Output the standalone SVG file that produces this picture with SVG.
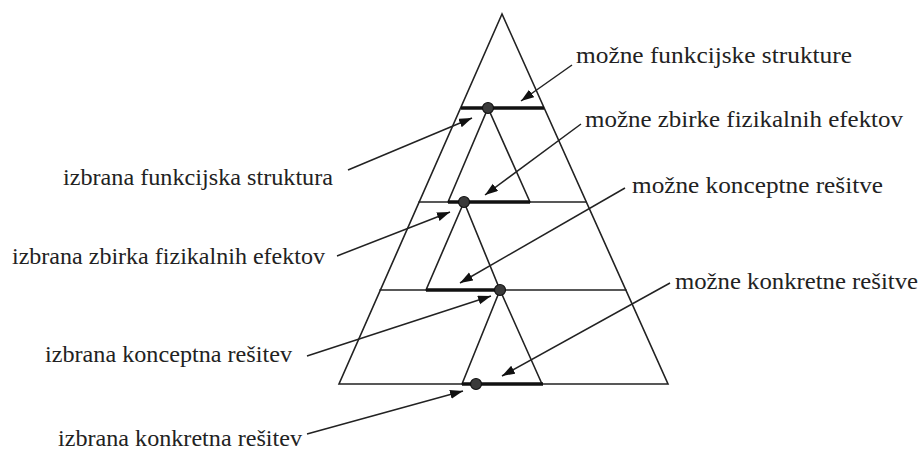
<svg xmlns="http://www.w3.org/2000/svg" width="923" height="450" viewBox="0 0 923 450">
<style>
.ln{stroke:#222;stroke-width:1.6;fill:none;stroke-linecap:round}
.thick{stroke:#111;stroke-width:3.6;fill:none}
.dot{fill:#3a3a3a;stroke:#111;stroke-width:1.2}
.arr{stroke:#222;stroke-width:1.5;fill:none;marker-end:url(#ah)}
.lbl{font-family:"Times New Roman","Liberation Serif",Tinos,serif;font-size:24px;fill:#222}
</style>
<defs>
<marker id="ah" markerUnits="userSpaceOnUse" markerWidth="14" markerHeight="10" refX="13" refY="4.5" orient="auto">
<path d="M0,0 L13,4.5 L0,9 z" fill="#111"/>
</marker>
</defs>
<rect width="923" height="450" fill="#fff"/>
<g id="pyramid">
<polygon class="ln" points="502,14 339,384 668,384"/>
<line class="ln" x1="419" y1="202" x2="586" y2="202"/>
<line class="ln" x1="380" y1="290" x2="626" y2="290"/>
</g>
<g id="sub1">
<polyline class="ln" points="448,202 488,108 530,202"/>
<line class="thick" x1="461" y1="108" x2="544" y2="108"/>
<circle class="dot" cx="488" cy="108" r="5.5"/>
</g>
<g id="sub2">
<polyline class="ln" points="426,290 464,202 500,290"/>
<line class="thick" x1="448" y1="202" x2="530" y2="202"/>
<circle class="dot" cx="464" cy="202" r="5.5"/>
</g>
<g id="sub3">
<polyline class="ln" points="462,384 500,290 542,384"/>
<line class="thick" x1="426" y1="290" x2="500" y2="290"/>
<circle class="dot" cx="500" cy="290" r="5.5"/>
</g>
<g id="sub4">
<line class="thick" x1="462" y1="384" x2="543" y2="384"/>
<circle class="dot" cx="476" cy="384" r="5.5"/>
</g>
<g id="connectors">
<line class="arr" x1="572" y1="65" x2="521" y2="101"/>
<line class="arr" x1="581" y1="124" x2="485" y2="195"/>
<line class="arr" x1="625" y1="188" x2="460" y2="283"/>
<line class="arr" x1="670" y1="283" x2="502" y2="376"/>
<line class="arr" x1="348" y1="170" x2="472" y2="118"/>
<line class="arr" x1="337" y1="256" x2="450" y2="212"/>
<line class="arr" x1="307" y1="356" x2="491" y2="296"/>
<line class="arr" x1="307" y1="434" x2="463" y2="391"/>
</g>
<g id="label-l1"><text class="lbl" x="63" y="185" textLength="270" lengthAdjust="spacingAndGlyphs">izbrana funkcijska struktura</text></g>
<g id="label-l2"><text class="lbl" x="12" y="264" textLength="313" lengthAdjust="spacingAndGlyphs">izbrana zbirka fizikalnih efektov</text></g>
<g id="label-l3"><text class="lbl" x="45" y="362" textLength="247" lengthAdjust="spacingAndGlyphs">izbrana konceptna rešitev</text></g>
<g id="label-l4"><text class="lbl" x="58" y="446" textLength="244" lengthAdjust="spacingAndGlyphs">izbrana konkretna rešitev</text></g>
<g id="label-r1"><text class="lbl" x="576" y="63" textLength="276" lengthAdjust="spacingAndGlyphs">možne funkcijske strukture</text></g>
<g id="label-r2"><text class="lbl" x="585" y="127" textLength="318" lengthAdjust="spacingAndGlyphs">možne zbirke fizikalnih efektov</text></g>
<g id="label-r3"><text class="lbl" x="632" y="193" textLength="251" lengthAdjust="spacingAndGlyphs">možne konceptne rešitve</text></g>
<g id="label-r4"><text class="lbl" x="675" y="289" textLength="243" lengthAdjust="spacingAndGlyphs">možne konkretne rešitve</text></g>
</svg>
